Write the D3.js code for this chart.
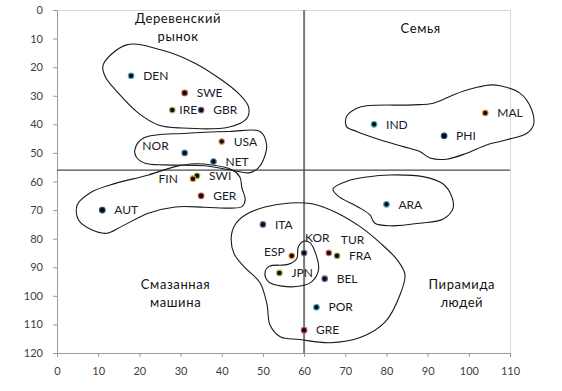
<!DOCTYPE html>
<html><head><meta charset="utf-8">
<script src="https://cdn.jsdelivr.net/npm/d3@7"></script>
<style>body{margin:0;background:#fff} svg{display:block}</style>
</head><body>
<svg id="c" width="562" height="391"></svg>
<script>
// ---- data ----
const countries = ["DEN","SWE","IRE","GBR","USA","NOR","NET","SWI","FIN","GER","AUT","ITA","ESP","KOR","TUR","FRA","JPN","BEL","POR","GRE","ARA","IND","PHI","MAL"];
const xValues   = [18,31,28,35,40,31,38,34,33,35,11,50,57,60,66,68,54,65,63,60,80,77,94,104];
const yValues   = [23,29,35,35,46,50,53,58,59,65,70,75,86,85,85,86,92,94,104,112,68,40,44,36];
const xTicks = [0,10,20,30,40,50,60,70,80,90,100,110];
const yTicks = [0,10,20,30,40,50,60,70,80,90,100,110,120];
const xSplit = 60;
const ySplit = 56;
const quadrantText = [["Деревенский","рынок"],["Семья"],["Смазанная","машина"],["Пирамида","людей"]];
const quadrantX = [29.4, 88.3, 28.8, 98.3];
const quadrantY = [2.9, 6.6, 96.1, 96.1];
// cluster outlines (data units)
const blobNordic = [[11.2,19.2],[16.9,12.2],[25.4,14],[33.5,18.6],[40,24.5],[44,29.1],[46.5,33.8],[46.1,37.9],[41.6,41],[30.3,41.3],[24.6,40.2],[19.7,36],[14.9,29.1],[11.7,23.3]];
const blobWest = [[18.9,48.9],[21,44.8],[31.5,43.1],[42,42.5],[49.3,42.5],[50.9,47.2],[50.1,52.5],[48.9,55.2],[46.9,56.9],[44,56.5],[35.9,54.5],[26.2,54.2],[21.4,53.6],[19.3,51.5]];
const blobCentral = [[4.9,68.2],[8,64],[12.9,61.2],[22.2,57.7],[28.7,54.8],[33.5,53.8],[37.6,54.2],[42.5,55.9],[44.4,58.4],[44.9,62.2],[45.7,66.4],[44.9,68.8],[42.4,69.3],[35.9,69],[28.7,68.9],[22.2,71.1],[15.7,75.7],[12.1,78.1],[8.4,76.9],[5.2,73.4]];
const blobSouth = [[45.7,71.7],[50.5,68.9],[56.6,67.5],[61.9,67.8],[68,71],[73.6,75.8],[78.4,81.4],[82.6,87.4],[84.5,92.6],[83.3,99.6],[79.7,109.1],[73.6,114.6],[66.3,116.4],[59,115.3],[54.2,114.3],[51.7,110.1],[51,103.1],[49.3,95.4],[45.7,90.2],[43,85.3],[42.3,79.7],[43.2,75.2]];
const blobAsia = [[59.9,80.9],[61.4,81.4],[62.9,85.6],[63.5,90.9],[61.9,95],[59.4,96.5],[54.6,96.6],[51.3,95],[50.5,92],[51.5,89.7],[56.1,89],[58.2,87],[58.6,82.8]];
const blobArab = [[67,62.6],[70.4,59.9],[75.3,58.4],[80.9,57.7],[88.9,58.3],[93.7,60.8],[95.7,64.7],[96.2,69.2],[93.8,73.1],[88.1,74.6],[80.9,75.5],[77.2,74.6],[76,71.7],[73.1,68.9],[68.2,65]];
const blobFamily = [[70.3,37.3],[72.8,34.4],[75.2,33.5],[86.5,33.2],[91.4,32.6],[96.2,29.7],[101.1,27.4],[106,26.2],[112.4,29.1],[115.3,35],[115.7,40.2],[114.1,43.1],[109.2,45.4],[104.3,47.2],[99.5,50.1],[94.6,52.2],[90.6,51.8],[88.1,49.5],[84.1,47.8],[78.4,45.4],[72.8,42.5],[70.3,40.8]];
const blobs = [blobNordic, blobWest, blobCentral, blobSouth, blobAsia, blobArab, blobFamily];

// ---- styles ----
const markerColor = {DEN:"#4bacc6",SWE:"#c0504d",IRE:"#9bbb59",GBR:"#8064a2",USA:"#f79646",NOR:"#4f81bd",NET:"#4f81bd",SWI:"#9bbb59",FIN:"#f79646",GER:"#c0504d",AUT:"#1f497d",ITA:"#8064a2",ESP:"#f79646",KOR:"#8064a2",TUR:"#d9777a",FRA:"#9bbb59",JPN:"#9bbb59",BEL:"#8064a2",POR:"#4bacc6",GRE:"#c0504d",ARA:"#4bacc6",IND:"#4bacc6",PHI:"#1f497d",MAL:"#f79646"};
const labelOffset = {NOR:[-16,-7,"end"],FIN:[-15,0,"end"],ESP:[-7,-4,"end"],KOR:[1,-15,"start"],TUR:[12,-13,"start"],IRE:[7,0,"start"]};

const svg = d3.select("#c");
const x = d3.scaleLinear().domain([0,110]).range([57,510]);
const y = d3.scaleLinear().domain([0,120]).range([10,353]);
const font = "Lato, 'Noto Sans', sans-serif";

// plot border (top/right)
svg.append("path").attr("d",`M${x(0)},${y(0)}H${x(110)}V${y(120)}`).attr("fill","none").attr("stroke","#d9d9d9").attr("stroke-width",1).attr("shape-rendering","crispEdges");

// axes
const gx = svg.append("g").attr("transform",`translate(0,${y(120)})`)
  .call(d3.axisBottom(x).tickValues(xTicks).tickSize(4).tickPadding(10).tickFormat(d3.format("d")));
const gy = svg.append("g").attr("transform",`translate(${x(0)},0)`)
  .call(d3.axisLeft(y).tickValues(yTicks).tickSize(4).tickPadding(10).tickFormat(d3.format("d")));
[gx,gy].forEach(g=>{
  g.select(".domain").attr("stroke","#9a9a9a");
  g.selectAll(".tick line").attr("stroke","#9a9a9a");
  g.selectAll(".tick text").attr("fill","#404040").attr("font-size",11).attr("font-family",font);
});

// crosshair
svg.append("line").attr("x1",x(xSplit)).attr("x2",x(xSplit)).attr("y1",y(0)).attr("y2",y(120)).attr("stroke","#7a7a7a").attr("stroke-width",2);
svg.append("line").attr("x1",x(0)).attr("x2",x(110)).attr("y1",y(ySplit)).attr("y2",y(ySplit)).attr("stroke","#4a4a4a").attr("stroke-width",1.3);

// blobs
const line = d3.line().x(d=>x(d[0])).y(d=>y(d[1])).curve(d3.curveCatmullRomClosed.alpha(0.5));
svg.selectAll("path.blob").data(blobs).join("path").attr("class","blob")
  .attr("d",line).attr("fill","none").attr("stroke","#1a1a1a").attr("stroke-width",1.1);

// quadrant labels
quadrantText.forEach((lines,i)=>{
  const t = svg.append("text").attr("x",x(quadrantX[i])).attr("y",y(quadrantY[i]))
    .attr("text-anchor","middle").attr("font-family",font).attr("font-size",13).attr("fill","#111").attr("letter-spacing",0.6);
  lines.forEach((s,j)=>t.append("tspan").attr("x",x(quadrantX[i])).attr("dy", j===0?"0.35em":"1.4em").text(s));
});

// points
const pts = countries.map((c,i)=>({c, x:xValues[i], y:yValues[i]}));
svg.selectAll("circle.pt").data(pts).join("circle").attr("class","pt")
  .attr("cx",d=>x(d.x)).attr("cy",d=>y(d.y)).attr("r",2.8)
  .attr("fill","#0d0d0d").attr("stroke",d=>markerColor[d.c]).attr("stroke-width",1.1);

svg.selectAll("text.lbl").data(pts).join("text").attr("class","lbl")
  .attr("x",d=>x(d.x)+(labelOffset[d.c]?labelOffset[d.c][0]:12))
  .attr("y",d=>y(d.y)+(labelOffset[d.c]?labelOffset[d.c][1]:0))
  .attr("dy","0.35em")
  .attr("text-anchor",d=>labelOffset[d.c]?labelOffset[d.c][2]:"start")
  .attr("font-family",font).attr("font-size",12).attr("fill","#1a1a2a")
  .text(d=>d.c);
</script>
</body></html>
